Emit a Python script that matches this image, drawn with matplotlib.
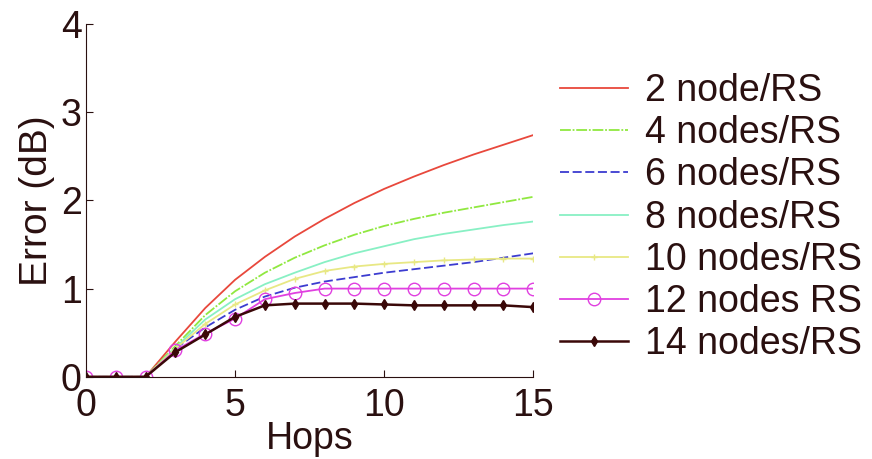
import matplotlib
matplotlib.use("Agg")
import matplotlib.pyplot as plt

plt.rcParams['font.family'] = ['Liberation Sans', 'DejaVu Sans']

hops = list(range(16))
labels = ["2 node/RS", "4 nodes/RS", "6 nodes/RS", "8 nodes/RS",
          "10 nodes/RS", "12 nodes RS", "14 nodes/RS"]
err_2 = [0, 0, 0, 0.40, 0.78, 1.10, 1.36, 1.59, 1.79, 1.97, 2.13, 2.27, 2.40, 2.52, 2.63, 2.74]
err_4 = [0, 0, 0, 0.35, 0.70, 0.97, 1.18, 1.35, 1.49, 1.61, 1.71, 1.79, 1.86, 1.92, 1.98, 2.04]
err_6 = [0, 0, 0, 0.32, 0.56, 0.76, 0.91, 1.01, 1.08, 1.13, 1.18, 1.22, 1.26, 1.30, 1.35, 1.40]
err_8 = [0, 0, 0, 0.33, 0.65, 0.88, 1.05, 1.18, 1.30, 1.40, 1.48, 1.56, 1.62, 1.67, 1.72, 1.76]
err_10 = [0, 0, 0, 0.32, 0.60, 0.82, 0.98, 1.11, 1.20, 1.25, 1.28, 1.30, 1.32, 1.33, 1.34, 1.34]
err_12 = [0, 0, 0, 0.30, 0.49, 0.66, 0.88, 0.95, 1.00, 1.00, 1.00, 1.00, 1.00, 1.00, 1.00, 1.00]
err_14 = [0, 0, 0, 0.28, 0.48, 0.68, 0.81, 0.83, 0.83, 0.83, 0.82, 0.81, 0.81, 0.81, 0.81, 0.79]

fig = plt.figure(figsize=(8.72, 4.59), dpi=100)
ax = fig.add_axes([0.0986, 0.179, 0.513, 0.769])

ax.plot(hops, err_2, color='#e8483c', lw=1.3, label=labels[0])
ax.plot(hops, err_4, color='#90e840', lw=1.3, ls=(0, (6, 1, 1, 1)), label=labels[1])
ax.plot(hops, err_6, color='#3c3cd0', lw=1.3, ls=(0, (5, 2)), label=labels[2])
ax.plot(hops, err_8, color='#88f0c4', lw=1.3, label=labels[3])
ax.plot(hops, err_10, color='#e8e884', lw=1.3, marker='+', ms=4, label=labels[4])
ax.plot(hops, err_12, color='#e040e0', lw=1.3, marker='o', ms=9, mfc='none', mew=1.0, label=labels[5])
ax.plot(hops, err_14, color='#3a0808', lw=1.8, marker='d', ms=5, label=labels[6])

ax.set_xlim(0, 15)
ax.set_ylim(0, 4)
ax.set_xticks([0, 5, 10, 15])
ax.set_yticks([0, 1, 2, 3, 4])
for s in ['top', 'right']:
    ax.spines[s].set_visible(False)
for s in ['left', 'bottom']:
    ax.spines[s].set_color('#2a1010')
ax.tick_params(direction='in', length=5, labelsize=27, colors='#2a1010')
ax.tick_params(axis='x', pad=8)
ax.tick_params(axis='y', pad=3)
ax.set_xlabel('Hops', fontsize=27, color='#2a1010', labelpad=-2)
ax.set_ylabel('Error (dB)', fontsize=28, color='#2a1010', labelpad=4)

leg = ax.legend(loc='upper left', bbox_to_anchor=(1.027, 0.903), frameon=False,
                fontsize=27, handlelength=1.8, handletextpad=0.45, labelspacing=0.165,
                borderaxespad=0)
for t in leg.get_texts():
    t.set_color('#2a1010')

fig.savefig('out.png', dpi=100)
